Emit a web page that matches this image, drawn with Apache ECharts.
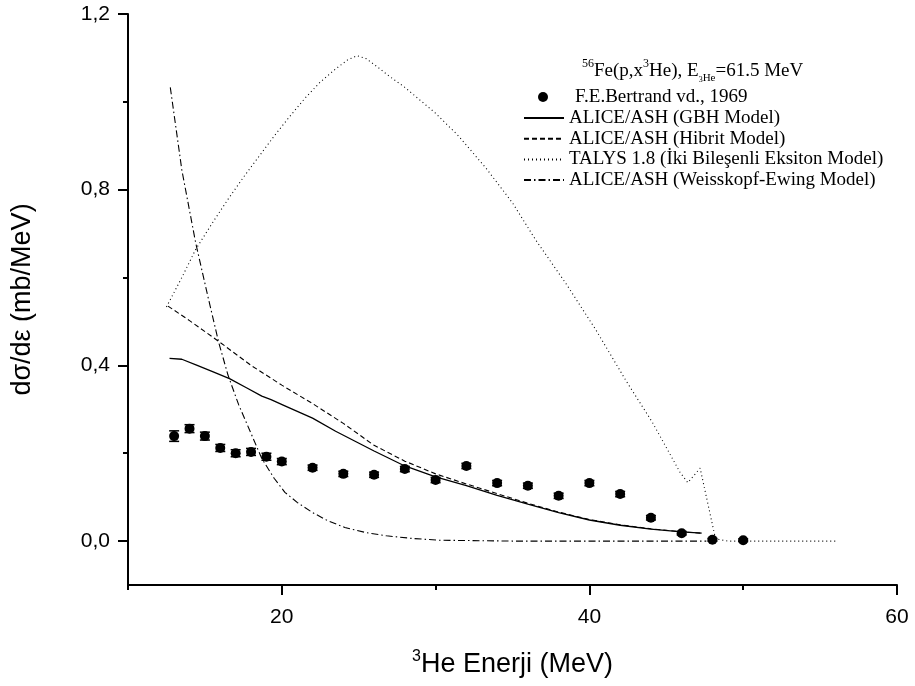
<!DOCTYPE html>
<html>
<head>
<meta charset="utf-8">
<title>56Fe(p,x3He)</title>
<script src="https://cdn.jsdelivr.net/npm/echarts@6/dist/echarts.min.js"></script>
<style>
  html, body { margin: 0; padding: 0; background: #fff; }
  #chart { width: 915px; height: 686px; }
</style>
</head>
<body>
<div id="chart"></div>
<script>
// deney verisi (F.E.Bertrand vd., 1969)
const expX = [13, 14, 15, 16, 17, 18, 19, 20, 22, 24, 26, 28, 30, 32, 34, 36, 38, 40, 42, 44, 46, 48, 50];
const expY = [0.239, 0.256, 0.239, 0.212, 0.200, 0.203, 0.192, 0.181, 0.167, 0.153, 0.151, 0.164, 0.139,
              0.171, 0.132, 0.126, 0.103, 0.132, 0.107, 0.053, 0.018, 0.003, 0.002];
const expErr = [0.012, 0.009, 0.009, 0.008, 0.008, 0.008, 0.008, 0.007, 0.006, 0.006, 0.006, 0.006, 0.006,
                0.006, 0.006, 0.006, 0.006, 0.006, 0.006, 0.005, 0.004, 0.003, 0.003];

// ALICE/ASH (GBH Model)
const gbhX = [12.7, 13.5, 14.5, 15.5, 16.6, 17.7, 18.7, 19.3, 20.2, 22, 23.5, 26, 28, 30, 32, 34, 36, 38, 40, 42, 44, 46, 47.3];
const gbhY = [0.416, 0.414, 0.400, 0.386, 0.370, 0.349, 0.330, 0.322, 0.308, 0.280, 0.250, 0.205, 0.171, 0.146,
              0.126, 0.104, 0.084, 0.065, 0.048, 0.036, 0.027, 0.021, 0.018];

// ALICE/ASH (Hibrit Model)
const hibX = [12.6, 14, 16, 18, 20, 22, 24, 26, 28, 30, 32, 34, 36, 38, 40, 42, 44, 46, 47.3];
const hibY = [0.535, 0.502, 0.452, 0.400, 0.355, 0.313, 0.268, 0.218, 0.182, 0.153, 0.130, 0.108, 0.086,
              0.066, 0.049, 0.037, 0.028, 0.021, 0.018];

// TALYS 1.8
const talX = [12.5, 13.5, 14.4, 15.5, 16.5, 17.5, 18.5, 19.5, 20.5, 21.5, 22.5, 23.5, 24.3, 24.9, 25.5, 26.2,
              27, 28, 30, 31.5, 33.3, 35, 36.5, 38.5, 40.4, 42.4, 44.1, 45.9, 46.4, 47.2, 48.2, 49, 56];
const talY = [0.533, 0.600, 0.664, 0.725, 0.778, 0.828, 0.875, 0.922, 0.966, 1.008, 1.045, 1.075, 1.096, 1.105,
              1.098, 1.080, 1.058, 1.033, 0.974, 0.922, 0.848, 0.770, 0.686, 0.585, 0.482, 0.364, 0.270,
              0.156, 0.133, 0.166, 0.005, 0.0, 0.0];

// ALICE/ASH (Weisskopf-Ewing Model)
const weX = [12.75, 13.5, 14.4, 15.2, 15.9, 16.5, 17.2, 18, 18.7, 19.5, 20.2, 21, 22, 23, 24.1, 25.5, 26.8,
             28.5, 30.2, 35, 47.6];
const weY = [1.033, 0.845, 0.679, 0.556, 0.452, 0.378, 0.310, 0.245, 0.188, 0.143, 0.111, 0.088, 0.065, 0.046,
             0.031, 0.019, 0.012, 0.006, 0.002, 0.0, 0.0];

// eksen işaretleri
const xMajor = [20, 40, 60];
const xMinor = [10, 30, 50];
const yMajor = [0, 0.4, 0.8, 1.2];
const yMinor = [0.2, 0.6, 1.0];

const names = [
  'F.E.Bertrand vd., 1969',
  'ALICE/ASH (GBH Model)',
  'ALICE/ASH (Hibrit Model)',
  'TALYS 1.8 (İki Bileşenli Eksiton Model)',
  'ALICE/ASH (Weisskopf-Ewing Model)'
];

const zip = (xs, ys) => xs.map((x, i) => [x, ys[i]]);

const sans = 'Liberation Sans, Arial, sans-serif';
const serif = 'Liberation Serif, Times New Roman, serif';

const lineSeries = (name, xs, ys, type, width) => ({
  name: name,
  type: 'line',
  data: zip(xs, ys),
  symbol: 'none',
  showSymbol: false,
  smooth: false,
  lineStyle: { color: '#000', width: width, type: type },
  itemStyle: { color: '#000' },
  z: 2
});

const chart = echarts.init(document.getElementById('chart'));

const option = {
  animation: false,
  backgroundColor: '#fff',
  title: {
    left: 582,
    top: 58,
    padding: 0,
    text: '{sup|56}{t|Fe(p,x}{sup|3}{t|He), E}{ss|3}{sub|He}{t|=61.5 MeV}',
    textStyle: {
      fontWeight: 'normal',
      rich: {
        t: { fontFamily: serif, fontSize: 19, fontWeight: 'normal', color: '#000', lineHeight: 26 },
        sup: { fontFamily: serif, fontSize: 12, fontWeight: 'normal', color: '#000', verticalAlign: 'top', lineHeight: 14 },
        ss: { fontFamily: serif, fontSize: 8, fontWeight: 'normal', color: '#000', verticalAlign: 'bottom', lineHeight: 16 },
        sub: { fontFamily: serif, fontSize: 11, fontWeight: 'normal', color: '#000', verticalAlign: 'bottom', lineHeight: 11 }
      }
    }
  },
  legend: [
    {
      data: [names[0]],
      orient: 'vertical',
      left: 538,
      top: 87,
      padding: 0,
      itemWidth: 10,
      itemHeight: 10,
      icon: 'circle',
      selectedMode: false,
      itemStyle: { color: '#000', opacity: 1 },
      textStyle: { fontFamily: serif, fontSize: 19, color: '#000', lineHeight: 20, padding: [0, 0, 0, 22] }
    },
    {
      data: names.slice(1),
      orient: 'vertical',
      left: 523,
      top: 108,
      padding: 0,
      itemWidth: 40,
      itemHeight: 14,
      itemGap: 0.7,
      selectedMode: false,
      itemStyle: { opacity: 0 },
      textStyle: { fontFamily: serif, fontSize: 19, color: '#000', lineHeight: 20 }
    }
  ],
  grid: { left: 128, right: 18, top: 14, bottom: 101 },
  xAxis: [
    {
      type: 'value',
      min: 10,
      max: 60,
      position: 'bottom',
      splitLine: { show: false },
      axisLine: { show: true, onZero: false, lineStyle: { color: '#000', width: 2 } },
      axisTick: { show: true, customValues: xMajor, length: 10, lineStyle: { color: '#000', width: 2 } },
      axisLabel: { customValues: xMajor, margin: 22, fontFamily: sans, fontSize: 21, color: '#000' },
      name: '{sup|3}{t|He Enerji (MeV)}',
      nameLocation: 'middle',
      nameGap: 64,
      nameTextStyle: {
        rich: {
          t: { fontFamily: sans, fontSize: 27, color: '#000', lineHeight: 32 },
          sup: { fontFamily: sans, fontSize: 16, color: '#000', verticalAlign: 'top', lineHeight: 18 }
        }
      }
    },
    {
      type: 'value',
      min: 10,
      max: 60,
      position: 'bottom',
      splitLine: { show: false },
      axisLine: { show: false, onZero: false },
      axisTick: { show: true, customValues: xMinor, length: 5, lineStyle: { color: '#000', width: 2 } },
      axisLabel: { show: false }
    }
  ],
  yAxis: [
    {
      type: 'value',
      min: -0.1,
      max: 1.2,
      position: 'left',
      splitLine: { show: false },
      axisLine: { show: true, onZero: false, lineStyle: { color: '#000', width: 2 } },
      axisTick: { show: true, customValues: yMajor, length: 10, lineStyle: { color: '#000', width: 2 } },
      axisLabel: {
        customValues: yMajor,
        margin: 18,
        fontFamily: sans,
        fontSize: 21,
        color: '#000',
        formatter: v => v.toFixed(1).replace('.', ',')
      },
      name: 'dσ/dε (mb/MeV)',
      nameLocation: 'middle',
      nameGap: 92,
      nameTextStyle: { fontFamily: sans, fontSize: 27, color: '#000' }
    },
    {
      type: 'value',
      min: -0.1,
      max: 1.2,
      position: 'left',
      splitLine: { show: false },
      axisLine: { show: false, onZero: false },
      axisTick: { show: true, customValues: yMinor, length: 5, lineStyle: { color: '#000', width: 2 } },
      axisLabel: { show: false }
    }
  ],
  series: [
    {
      name: names[0],
      type: 'scatter',
      data: zip(expX, expY),
      symbol: 'circle',
      symbolSize: 10,
      itemStyle: { color: '#000', opacity: 1 },
      z: 5
    },
    {
      // hata çubukları
      type: 'custom',
      data: expX.map((x, i) => [x, expY[i], expErr[i]]),
      z: 4,
      renderItem: (params, api) => {
        const x = api.value(0);
        const y = api.value(1);
        const e = api.value(2);
        const top = api.coord([x, y + e]);
        const bot = api.coord([x, y - e]);
        const w = 5;
        const st = { stroke: '#000', lineWidth: 1.5 };
        return {
          type: 'group',
          children: [
            { type: 'line', shape: { x1: top[0], y1: top[1], x2: bot[0], y2: bot[1] }, style: st },
            { type: 'line', shape: { x1: top[0] - w, y1: top[1], x2: top[0] + w, y2: top[1] }, style: st },
            { type: 'line', shape: { x1: bot[0] - w, y1: bot[1], x2: bot[0] + w, y2: bot[1] }, style: st }
          ]
        };
      }
    },
    lineSeries(names[1], gbhX, gbhY, 'solid', 1.3),
    lineSeries(names[2], hibX, hibY, [5, 3], 1.1),
    lineSeries(names[3], talX, talY, [1, 3], 1.1),
    lineSeries(names[4], weX, weY, [7, 3, 1.5, 3], 1.1)
  ]
};

chart.setOption(option);
</script>
</body>
</html>
